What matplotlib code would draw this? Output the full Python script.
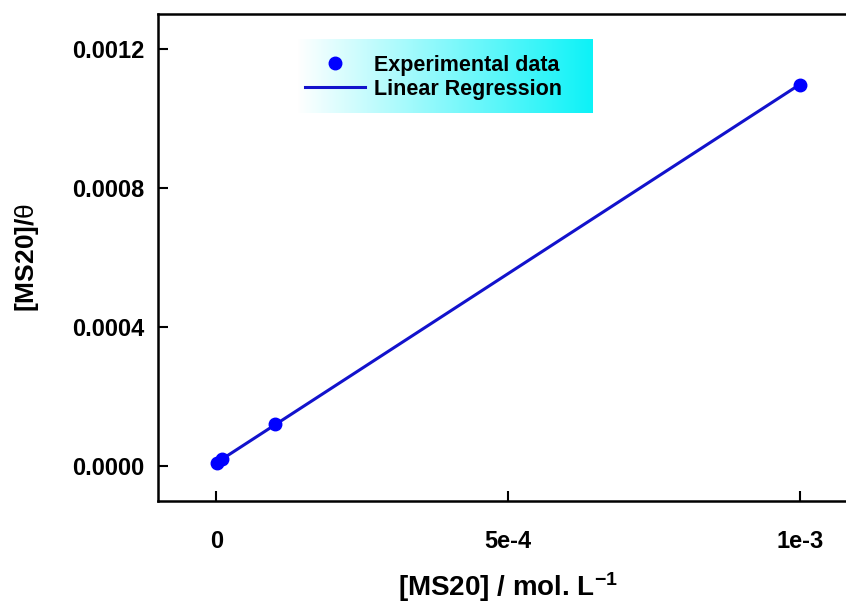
import numpy as np
import matplotlib
matplotlib.use("Agg")
import matplotlib.pyplot as plt

plt.rcParams['font.family'] = ['Liberation Sans', 'DejaVu Sans']
plt.rcParams['font.weight'] = 'bold'
plt.rcParams['axes.labelweight'] = 'bold'
plt.rcParams['mathtext.fontset'] = 'custom'
plt.rcParams['mathtext.rm'] = 'Liberation Sans:weight=normal'
plt.rcParams['mathtext.bf'] = 'Liberation Sans:bold'
plt.rcParams['mathtext.it'] = 'Liberation Sans:italic'

# data
conc = [1e-6, 1e-5, 1e-4, 1e-3]
ratio = [9e-6, 2.0e-5, 1.21e-4, 1.097e-3]

xticks = [0, 5e-4, 1e-3]
xtick_labels = ['0', '5e-4', '1e-3']
yticks = [0, 0.0004, 0.0008, 0.0012]
ytick_labels = ['0.0000', '0.0004', '0.0008', '0.0012']

W, H = 846, 603
fig = plt.figure(figsize=(W / 100, H / 100), dpi=100)
# the right spine lies just outside the picture, as in the original
ax = fig.add_axes([158 / W, (H - 501) / H, (858 - 158) / W, (501 - 14) / H])

# regression line
pente, orig = np.polyfit(conc, ratio, 1)
xr = np.array([min(conc), max(conc)])
ax.plot(xr, orig + pente * xr, color='#1212cc', lw=2.2, label='Linear Regression', zorder=3)
ax.plot(conc, ratio, 'o', color='#0000ff', ms=9, label='Experimental data', zorder=4)

# gradient behind the legend (white -> cyan)
grad = np.linspace(0, 1, 256)[None, :]
cores = np.zeros((1, 256, 3))
cores[..., 0] = 1 - grad * 0.95
cores[..., 1] = 1 - grad * 0.05
cores[..., 2] = 1 - grad * 0.03
ax.imshow(cores, extent=[(297 - 158) / 700, (592 - 158) / 700, (501 - 113) / 487, (501 - 39) / 487],
          transform=ax.transAxes, aspect='auto', zorder=1)

ax.set_xlim(-1e-4, 1.1e-3)
ax.set_ylim(-0.0001, 0.0013)
ax.set_xticks(xticks)
ax.set_xticklabels(xtick_labels)
ax.set_yticks(yticks)
ax.set_yticklabels(ytick_labels)
ax.tick_params(direction='in', length=7, width=1.5, labelsize=17)
ax.tick_params(axis='x', pad=21)
ax.tick_params(axis='y', pad=10)
for s in ax.spines.values():
    s.set_linewidth(1.8)

ax.set_xlabel(r'[MS20] / mol. L$^{\mathbf{-1}}$', fontsize=20, labelpad=12)
ax.set_ylabel(r'[MS20]/$\mathrm{\theta}$', fontsize=19, labelpad=22)

h, l = ax.get_legend_handles_labels()
leg = ax.legend(h[::-1], l[::-1], loc='upper left', frameon=False, fontsize=15.5,
                bbox_to_anchor=((305 - 158) / 700, (501 - 55) / 487), borderpad=0,
                borderaxespad=0, handlelength=2.8, handletextpad=0.42, labelspacing=0.12)
leg.set_zorder(5)

fig.savefig('out.png', dpi=100)
